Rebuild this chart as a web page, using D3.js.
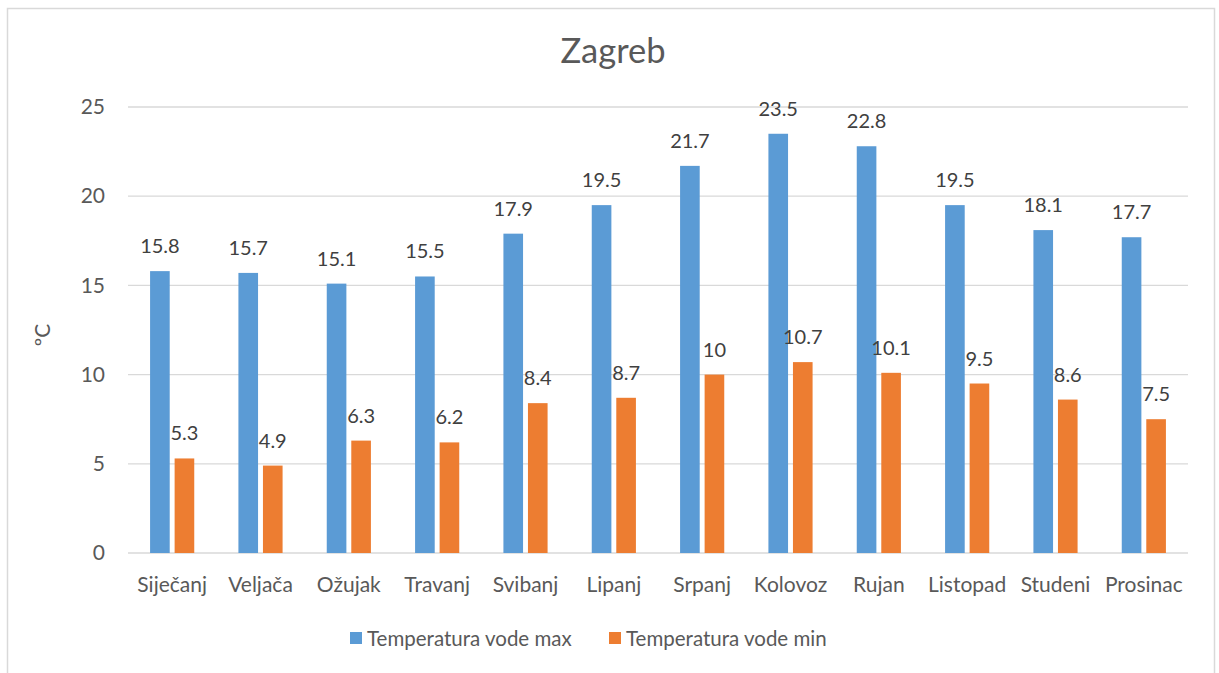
<!DOCTYPE html>
<html>
<head>
<meta charset="utf-8">
<script src="https://cdn.jsdelivr.net/npm/d3@7"></script>
<style>
  body { margin: 0; background: #fff; }
  text { font-family: Lato, "Open Sans", sans-serif; }
</style>
</head>
<body>
<div id="chart"></div>
<script>
// data
var months = ["Siječanj", "Veljača", "Ožujak", "Travanj", "Svibanj", "Lipanj",
              "Srpanj", "Kolovoz", "Rujan", "Listopad", "Studeni", "Prosinac"];
var seriesNames = ["Temperatura vode max", "Temperatura vode min"];
var maxTemp = [15.8, 15.7, 15.1, 15.5, 17.9, 19.5, 21.7, 23.5, 22.8, 19.5, 18.1, 17.7];
var minTemp = [5.3, 4.9, 6.3, 6.2, 8.4, 8.7, 10, 10.7, 10.1, 9.5, 8.6, 7.5];
var yTicks = [0, 5, 10, 15, 20, 25];
var colors = ["#5B9BD5", "#ED7D31"];

var W = 1219, H = 673;
var margin = {top: 107, right: 31, bottom: 120, left: 128},
    width = 1188 - margin.left,
    height = 553 - margin.top;

var svg = d3.select("#chart")
  .append("svg")
    .attr("width", W)
    .attr("height", H);

// outer frame
svg.append("rect")
  .attr("x", 7.5).attr("y", 8.5)
  .attr("width", 1207).attr("height", 680)
  .attr("fill", "none")
  .attr("stroke", "#D9D9D9")
  .attr("stroke-width", 1.5);

var g = svg.append("g")
  .attr("transform", "translate(" + margin.left + "," + margin.top + ")");

var x0 = d3.scaleBand()
  .domain(months)
  .range([0, width]);

var x1 = d3.scaleBand()
  .domain(seriesNames)
  .range([0, x0.bandwidth()])
  .paddingInner(0.2)
  .paddingOuter(0.9);

var y = d3.scaleLinear()
  .domain([0, 25])
  .range([height, 0]);

// gridlines
g.append("g")
  .selectAll("line")
  .data(yTicks)
  .enter()
  .append("line")
    .attr("x1", 0)
    .attr("x2", width)
    .attr("y1", function(d) { return y(d); })
    .attr("y2", function(d) { return y(d); })
    .attr("stroke", "#D9D9D9")
    .attr("stroke-width", 1.3);

// y axis
var yAxis = g.append("g")
  .call(d3.axisLeft(y).tickValues(yTicks).tickSize(0).tickPadding(23));
yAxis.select(".domain").remove();
yAxis.selectAll("text")
  .attr("fill", "#595959")
  .style("font-size", "21px");

// x axis
var xAxis = g.append("g")
  .attr("transform", "translate(0," + height + ")")
  .call(d3.axisBottom(x0).tickSize(0).tickPadding(24));
xAxis.select(".domain").remove();
xAxis.selectAll("text")
  .attr("fill", "#595959")
  .style("font-size", "21px");

var series = [maxTemp, minTemp];

series.forEach(function(vals, si) {
  var grp = g.append("g");
  grp.selectAll("rect")
    .data(vals)
    .enter()
    .append("rect")
      .attr("x", function(d, i) { return x0(months[i]) + x1(seriesNames[si]); })
      .attr("y", function(d) { return y(d); })
      .attr("width", x1.bandwidth())
      .attr("height", function(d) { return height - y(d); })
      .attr("fill", colors[si]);

  grp.selectAll("text")
    .data(vals)
    .enter()
    .append("text")
      .text(function(d) { return d; })
      .attr("x", function(d, i) { return x0(months[i]) + x1(seriesNames[si]) + x1.bandwidth() / 2; })
      .attr("y", function(d) { return y(d) - 18; })
      .attr("text-anchor", "middle")
      .attr("fill", "#404040")
      .style("font-size", "20px");
});

// title
svg.append("text")
  .attr("x", 613)
  .attr("y", 63)
  .attr("text-anchor", "middle")
  .attr("fill", "#595959")
  .style("font-size", "34.5px")
  .text("Zagreb");

// y label
svg.append("text")
  .attr("transform", "translate(50,335) rotate(-90)")
  .attr("text-anchor", "middle")
  .attr("fill", "#595959")
  .style("font-size", "21px")
  .text("ºC");

// legend
var legendX = [350, 609];
var legend = svg.selectAll(".legend")
  .data(seriesNames)
  .enter()
  .append("g")
    .attr("transform", function(d, i) { return "translate(" + legendX[i] + ",632)"; });
legend.append("rect")
  .attr("width", 12).attr("height", 12)
  .attr("fill", function(d, i) { return colors[i]; });
legend.append("text")
  .attr("x", 17)
  .attr("y", 14)
  .attr("fill", "#595959")
  .style("font-size", "20.5px")
  .text(function(d) { return d; });
</script>
</body>
</html>
